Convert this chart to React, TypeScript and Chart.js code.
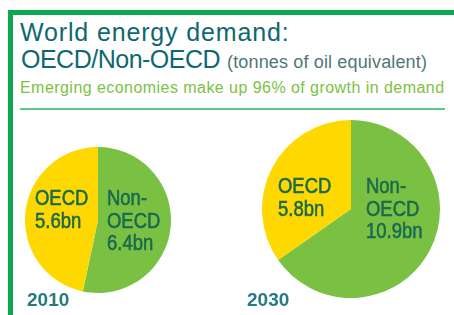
import React, { useEffect, useRef } from "react";
import { Chart, registerables } from "chart.js";

Chart.register(...registerables);

// ---- data ----
const categories = ["Non-OECD", "OECD"];
const years = ["2010", "2030"];
const values2010 = [6.4, 5.6];
const values2030 = [10.9, 5.8];
const sliceColors = ["#7ac143", "#ffd800"];

const LABEL_COLOR = "#1a6a50";

type PieCfg = {
  values: number[];
  year: string;
  left: number;
  top: number;
  size: number;
  oecdDx: number;
  nonDx: number;
  firstDy: number;
};

function linesFor(cat: string, v: number): string[] {
  if (cat === "Non-OECD") return ["Non-", "OECD", `${v}bn`];
  return [cat, `${v}bn`];
}

const labelPlugin = {
  id: "pieLabels",
  afterDatasetsDraw(chart: any) {
    const opts = chart.options.plugins.pieLabels;
    const ctx = chart.ctx;
    const meta = chart.getDatasetMeta(0);
    const ds = chart.data.datasets[0];
    const fs = 22;
    const lh = 22.5;
    const sx = 0.84;
    meta.data.forEach((arc: any, i: number) => {
      const cat = chart.data.labels[i];
      const lines = linesFor(cat, ds.data[i]);
      const x0 = arc.x + (cat === "OECD" ? opts.oecdDx : opts.nonDx);
      const y0 = arc.y + opts.firstDy;
      ctx.save();
      ctx.font = `${fs}px 'Liberation Sans', Arial, sans-serif`;
      ctx.fillStyle = LABEL_COLOR;
      ctx.strokeStyle = LABEL_COLOR;
      ctx.lineWidth = 0.6;
      ctx.textAlign = "left";
      ctx.textBaseline = "alphabetic";
      lines.forEach((t: string, k: number) => {
        ctx.save();
        ctx.translate(x0, y0 + k * lh);
        ctx.scale(sx, 1);
        ctx.fillText(t, 0, 0);
        ctx.strokeText(t, 0, 0);
        ctx.restore();
      });
      ctx.restore();
    });
  },
};

function Pie({ cfg }: { cfg: PieCfg }) {
  const ref = useRef<HTMLCanvasElement>(null);
  useEffect(() => {
    if (!ref.current) return;
    const chart = new Chart(ref.current, {
      type: "pie",
      data: {
        labels: categories,
        datasets: [
          {
            data: cfg.values,
            backgroundColor: sliceColors,
            borderWidth: 0,
          },
        ],
      },
      options: {
        responsive: false,
        animation: false,
        rotation: 0,
        layout: { padding: 0 },
        plugins: {
          legend: { display: false },
          tooltip: { enabled: false },
          // @ts-ignore
          pieLabels: { oecdDx: cfg.oecdDx, nonDx: cfg.nonDx, firstDy: cfg.firstDy },
        },
      } as any,
      plugins: [labelPlugin],
    });
    return () => chart.destroy();
  }, [cfg]);
  return (
    <canvas
      ref={ref}
      width={cfg.size}
      height={cfg.size}
      style={{ position: "absolute", left: cfg.left, top: cfg.top, width: cfg.size, height: cfg.size }}
    />
  );
}

const pie2010: PieCfg = {
  values: values2010,
  year: years[0],
  left: 25,
  top: 147,
  size: 146,
  oecdDx: -63,
  nonDx: 9,
  firstDy: -15,
};
const pie2030: PieCfg = {
  values: values2030,
  year: years[1],
  left: 262,
  top: 120,
  size: 178,
  oecdDx: -73,
  nonDx: 15,
  firstDy: -16,
};

export default function App() {
  const font = "'Liberation Sans', Arial, sans-serif";
  return (
    <div
      style={{
        position: "absolute",
        left: 0,
        top: 0,
        width: 454,
        height: 315,
        background: "#ffffff",
        overflow: "hidden",
        fontFamily: font,
      }}
    >
      {/* frame */}
      <div style={{ position: "absolute", left: 8, top: 10, width: 446, height: 5, background: "#0aa84f" }} />
      <div style={{ position: "absolute", left: 8, top: 10, width: 5, height: 305, background: "#0aa84f" }} />
      {/* separator */}
      <div style={{ position: "absolute", left: 20, top: 108, width: 425, height: 2, background: "#5cc98a" }} />

      {/* titles */}
      <div
        style={{
          position: "absolute",
          left: 20,
          top: 20,
          fontSize: 25,
          lineHeight: "25px",
          letterSpacing: 0.85,
          color: "#0f6870",
          whiteSpace: "nowrap",
        }}
      >
        World energy demand:
      </div>
      <div
        style={{
          position: "absolute",
          left: 21,
          top: 47,
          fontSize: 25,
          lineHeight: "25px",
          color: "#0f6870",
          whiteSpace: "nowrap",
        }}
      >
        <span style={{ letterSpacing: -0.5 }}>OECD/Non-OECD</span>{" "}
        <span style={{ fontSize: 18, letterSpacing: 0.15, color: "#4f7679" }}>(tonnes of oil equivalent)</span>
      </div>
      <div
        style={{
          position: "absolute",
          left: 20,
          top: 80,
          fontSize: 16,
          lineHeight: "16px",
          letterSpacing: 0.45,
          color: "#7cc242",
          whiteSpace: "nowrap",
        }}
      >
        Emerging economies make up 96% of growth in demand
      </div>

      <Pie cfg={pie2010} />
      <Pie cfg={pie2030} />

      <div
        style={{
          position: "absolute",
          left: 27,
          top: 290,
          fontSize: 19,
          lineHeight: "19px",
          fontWeight: "bold",
          color: "#267a80",
        }}
      >
        {years[0]}
      </div>
      <div
        style={{
          position: "absolute",
          left: 247,
          top: 290,
          fontSize: 19,
          lineHeight: "19px",
          fontWeight: "bold",
          color: "#267a80",
        }}
      >
        {years[1]}
      </div>
    </div>
  );
}
